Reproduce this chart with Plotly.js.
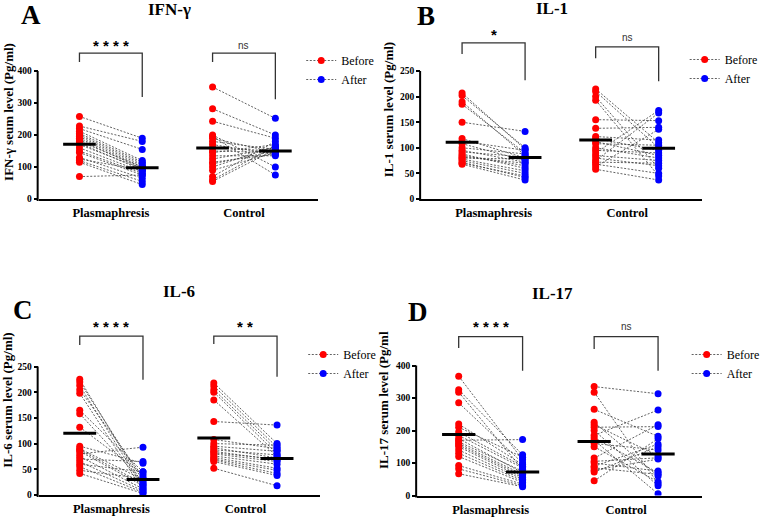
<!DOCTYPE html>
<html><head><meta charset="utf-8">
<script src="https://cdn.plot.ly/plotly-3.0.1.min.js"></script>
<style>html,body{margin:0;padding:0;background:#fff}#chart{width:765px;height:519px}</style>
</head><body><div id="chart"></div>
<script>
// ---------- data ----------
const groupLabels = ["Plasmaphresis", "Control"];
const seriesNames = ["Before", "After"];

// A: IFN-γ
const ifnPlasBefore = [258, 228, 220, 212, 205, 200, 195, 190, 185, 180, 175, 170, 160, 150, 145, 130, 125, 120, 115, 70];
const ifnPlasAfter  = [190, 180, 155, 120, 115, 110, 105, 100, 95, 100, 90, 95, 85, 80, 75, 65, 90, 55, 45, 75];
const ifnCtrlBefore = [350, 282, 243, 200, 195, 190, 180, 170, 160, 150, 145, 135, 125, 115, 110, 100, 90, 70, 60, 55];
const ifnCtrlAfter  = [252, 200, 190, 100, 75, 145, 155, 140, 150, 145, 170, 135, 160, 140, 150, 165, 145, 180, 165, 155];
const ifnMeans = [171, 98, 159, 150];

// B: IL-1
const il1PlasBefore = [207, 202, 190, 185, 150, 118, 113, 108, 100, 95, 92, 88, 85, 82, 80, 78, 75, 72, 70, 68];
const il1PlasAfter  = [97, 100, 85, 90, 132, 80, 95, 75, 88, 72, 82, 60, 65, 70, 78, 55, 50, 42, 45, 37];
const il1CtrlBefore = [215, 210, 200, 193, 155, 138, 122, 118, 112, 108, 100, 95, 90, 85, 80, 75, 72, 68, 63, 58];
const il1CtrlAfter  = [110, 100, 60, 45, 153, 140, 115, 95, 85, 105, 80, 90, 173, 75, 65, 168, 70, 50, 136, 37];
const il1Means = [111, 81, 115, 99];

// C: IL-6
const il6PlasBefore = [225, 220, 213, 205, 198, 165, 158, 132, 95, 90, 88, 85, 80, 75, 70, 65, 60, 55, 48, 42];
const il6PlasAfter  = [20, 28, 15, 35, 10, 45, 25, 40, 62, 30, 22, 18, 93, 12, 65, 8, 45, 5, 32, 3];
const il6CtrlBefore = [218, 212, 205, 200, 185, 143, 108, 100, 95, 92, 88, 85, 82, 80, 76, 73, 70, 68, 65, 52];
const il6CtrlAfter  = [100, 93, 87, 80, 75, 136, 90, 97, 85, 72, 78, 68, 70, 65, 60, 52, 48, 42, 38, 18];
const il6Means = [120, 30, 111, 71];

// D: IL-17
const il17PlasBefore = [367, 325, 318, 285, 220, 210, 195, 185, 175, 170, 165, 160, 155, 150, 140, 130, 120, 92, 82, 67];
const il17PlasAfter  = [110, 125, 80, 100, 95, 118, 90, 85, 70, 172, 75, 65, 60, 55, 50, 45, 40, 35, 30, 27];
const il17CtrlBefore = [335, 318, 265, 225, 218, 210, 200, 185, 178, 170, 160, 150, 115, 105, 100, 90, 85, 78, 72, 45];
const il17CtrlAfter  = [313, 36, 182, 60, 122, 212, 30, 263, 70, 5, 140, 42, 218, 116, 75, 158, 65, 112, 150, 175];
const il17Means = [188, 72, 166, 128];

// ---------- layout config ----------
const xPos = [0, 1, 2.12, 3.12];
const xRange = [-0.65, 3.8];
const W = 765, H = 519;
const SERIF = '"Liberation Serif", "Times New Roman", serif';
const SANS = '"Liberation Sans", Arial, sans-serif';

const panels = [
  {letter:'A', title:'IFN-γ', ytitle:'IFN-γ seum level (Pg/ml)', yMax:400, dtick:100,
   data:[ifnPlasBefore, ifnPlasAfter, ifnCtrlBefore, ifnCtrlAfter], means:ifnMeans,
   sig:['* * * *','ns'], box:{l:39,r:321,zero:199,max:71,top:25},
   br:[[456,428,319,481],[456,428,312,481]], leg:{x:346,y:60}, standoff:0,
   letterPos:[31,15], titlePos:[171,10]},
  {letter:'B', title:'IL-1', ytitle:'IL-1 serum level (Pg/ml)', yMax:250, dtick:50,
   data:[il1PlasBefore, il1PlasAfter, il1CtrlBefore, il1CtrlAfter], means:il1Means,
   sig:['*','ns'], box:{l:425,r:708,zero:199,max:71,top:20},
   br:[[305,283,232,322],[297,275,230,316]], leg:{x:733,y:59}, standoff:3,
   letterPos:[430,16], titlePos:[557,8]},
  {letter:'C', title:'IL-6', ytitle:'IL-6 serum level (Pg/ml)', yMax:250, dtick:50,
   data:[il6PlasBefore, il6PlasAfter, il6CtrlBefore, il6CtrlAfter], means:il6Means,
   sig:['* * * *','* *'], box:{l:39,r:323,zero:495,max:366.5,top:305},
   br:[[309,292,224,328],[309,294,230,328]], leg:{x:348,y:354}, standoff:3,
   letterPos:[23,310], titlePos:[181,291]},
  {letter:'D', title:'IL-17', ytitle:'IL-17 serum level (Pg/ml', yMax:400, dtick:100,
   data:[il17PlasBefore, il17PlasAfter, il17CtrlBefore, il17CtrlAfter], means:il17Means,
   sig:['* * * *','ns'], box:{l:421,r:708,zero:495.5,max:365.5,top:305},
   br:[[489,454,384,520],[489,451,384,520]], leg:{x:735,y:354}, standoff:4,
   letterPos:[422,312], titlePos:[558,293]}
];

const traces = [];
const layout = {
  width: W, height: H, margin:{l:0,r:0,t:0,b:0,pad:0},
  paper_bgcolor:'#fff', plot_bgcolor:'#fff', showlegend:true,
  annotations:[], shapes:[]
};
const dashStyle = '2px,1.6px';

panels.forEach((p, k) => {
  const sfx = k === 0 ? '' : String(k + 1);
  const xa = 'x' + sfx, ya = 'y' + sfx;
  const lg = 'legend' + sfx;
  const b = p.box;
  const yTop = p.yMax * (b.zero - b.top) / (b.zero - b.max);

  // paired dashed lines
  const lx = [], ly = [];
  [[0,1],[2,3]].forEach(([bi, ai]) => {
    p.data[bi].forEach((v, i) => { lx.push(xPos[bi], xPos[ai], null); ly.push(v, p.data[ai][i], null); });
  });
  traces.push({type:'scatter', mode:'lines', x:lx, y:ly, xaxis:xa, yaxis:ya,
    line:{color:'#3a3a3a', width:0.8, dash:dashStyle}, showlegend:false, hoverinfo:'skip'});

  // Before / After points
  [0,1].forEach(s => {
    const mx = [], my = [];
    [s, s + 2].forEach(c => p.data[c].forEach(v => { mx.push(xPos[c], null); my.push(v, null); }));
    traces.push({type:'scatter', mode:'lines+markers', name:seriesNames[s], x:mx, y:my,
      xaxis:xa, yaxis:ya, legend:lg, connectgaps:false,
      marker:{color: s ? '#0000ff' : '#ff0000', size:7, line:{width:0}},
      line:{color:'#3a3a3a', width:0.8, dash:dashStyle}});
  });

  // mean bars
  const bx = [], by = [];
  p.means.forEach((m, c) => { bx.push(xPos[c] - 0.26, xPos[c] + 0.26, null); by.push(m, m, null); });
  traces.push({type:'scatter', mode:'lines', x:bx, y:by, xaxis:xa, yaxis:ya,
    line:{color:'#000', width:3}, showlegend:false, hoverinfo:'skip'});

  const ticks = [];
  for (let t = 0; t <= p.yMax; t += p.dtick) ticks.push(t);

  layout['xaxis' + sfx] = {
    domain:[b.l / W, b.r / W], range:xRange, anchor:ya, automargin:false,
    showline:true, linecolor:'#000', linewidth:2, ticks:'', showgrid:false, zeroline:false,
    tickvals:[(xPos[0] + xPos[1]) / 2, (xPos[2] + xPos[3]) / 2], ticktext:groupLabels,
    tickfont:{family:SERIF, size:12.5, color:'#000', weight:'bold'}, ticklabelstandoff:1, fixedrange:true
  };
  layout['yaxis' + sfx] = {
    domain:[1 - b.zero / H, 1 - b.top / H], range:[0, yTop], anchor:xa, automargin:false,
    showline:false, ticks:'outside', ticklen:4, tickwidth:2, tickcolor:'#000',
    tickvals:ticks, showgrid:false, zeroline:false,
    tickfont:{family:SERIF, size:9.5, color:'#000', weight:'bold'},
    title:{text:p.ytitle, font:{family:SERIF, size:13, color:'#000', weight:'bold'}, standoff:p.standoff},
    fixedrange:true
  };

  // y axis line (0 .. yMax only)
  layout.shapes.push({type:'line', xref:'paper', yref:'paper',
    x0:(b.l - 1) / W, x1:(b.l - 1) / W, y0:1 - (b.zero + 2) / H, y1:1 - b.max / H,
    line:{color:'#000', width:2}});

  // significance brackets
  p.br.forEach((br, g) => {
    const x0 = xPos[g * 2], x1 = xPos[g * 2 + 1];
    layout.shapes.push({type:'path', xref:xa, yref:ya,
      path:`M${x0},${br[1]} L${x0},${br[0]} L${x1},${br[0]} L${x1},${br[2]}`,
      line:{color:'#333', width:1.3}});
    const isNs = p.sig[g] === 'ns';
    layout.annotations.push({xref:xa, yref:ya, x:(x0 + x1) / 2, y:br[3], text:p.sig[g], showarrow:false,
      xanchor:'center', yanchor:'middle',
      font: isNs ? {family:SANS, size:10, color:'#333'} : {family:SANS, size:15, color:'#000', weight:'bold'}});
  });

  // panel letter and title
  layout.annotations.push({xref:'paper', yref:'paper', x:p.letterPos[0] / W, y:1 - p.letterPos[1] / H,
    xanchor:'center', yanchor:'middle', showarrow:false, text:p.letter,
    font:{family:SERIF, size:27, color:'#000', weight:'bold'}});
  layout.annotations.push({xref:'paper', yref:'paper', x:p.titlePos[0] / W, y:1 - p.titlePos[1] / H,
    xanchor:'center', yanchor:'middle', showarrow:false, text:p.title,
    font:{family:SERIF, size:17, color:'#000', weight:'bold'}});

  // legend
  layout[lg] = {x:(p.leg.x - 42) / W, y:1 - (p.leg.y - 14) / H, xanchor:'left', yanchor:'top',
    bgcolor:'rgba(0,0,0,0)', borderwidth:0, tracegroupgap:0, itemwidth:30,
    font:{family:SERIF, size:12, color:'#000'}};
});

Plotly.newPlot('chart', traces, layout, {staticPlot:true, displayModeBar:false});
</script>
</body></html>
